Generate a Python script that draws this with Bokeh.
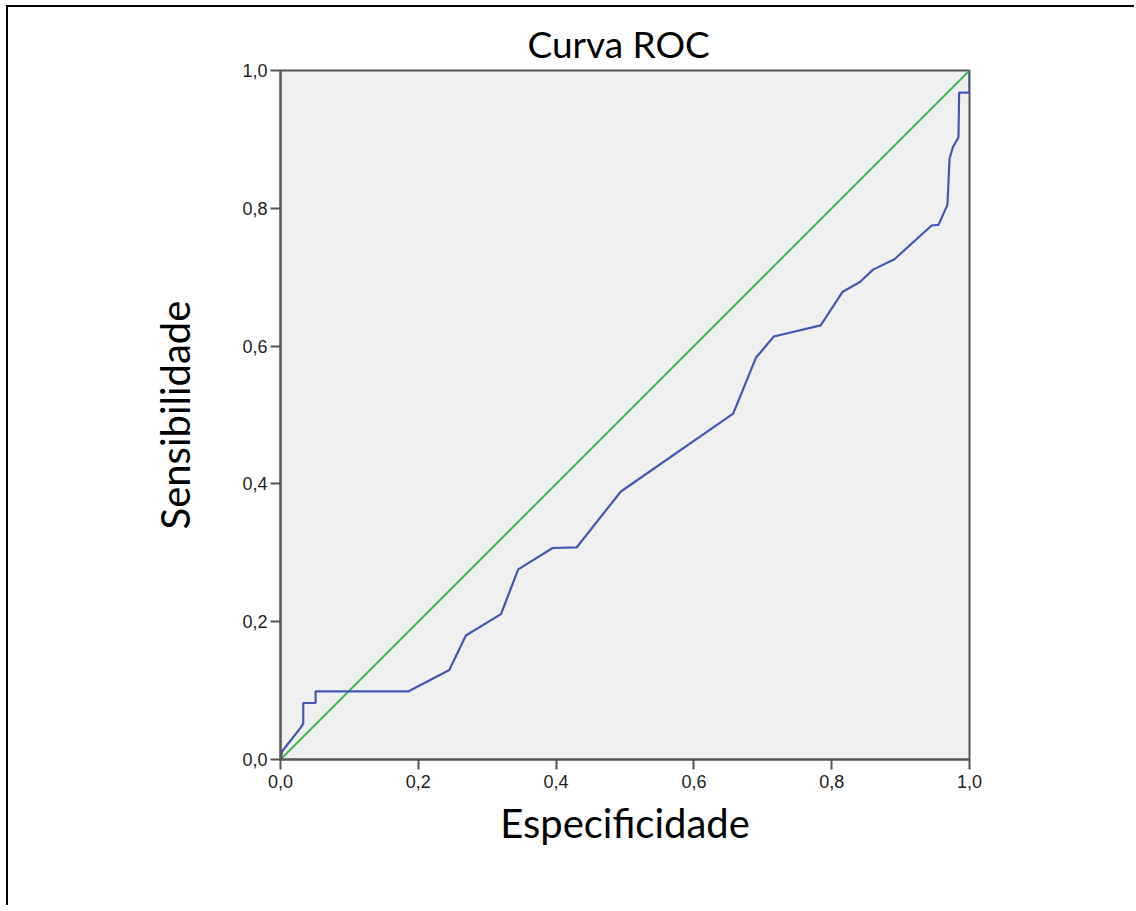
from bokeh.plotting import figure
from bokeh.models import Range1d, FixedTicker, Title
from bokeh.embed import file_html
from bokeh.resources import INLINE

# ROC curve (1 - specificity on x, sensitivity on y)
fpr = [0.0, 0.0025, 0.029, 0.033, 0.033, 0.051, 0.051, 0.186, 0.245, 0.269,
       0.320, 0.345, 0.395, 0.430, 0.494, 0.657, 0.690, 0.716, 0.784, 0.816,
       0.841, 0.860, 0.891, 0.945, 0.955, 0.968, 0.971, 0.976, 0.984, 0.985,
       1.0, 1.0]
tpr = [0.0, 0.012, 0.046, 0.052, 0.082, 0.082, 0.099, 0.099, 0.130, 0.180,
       0.211, 0.276, 0.307, 0.308, 0.389, 0.502, 0.583, 0.614, 0.630, 0.679,
       0.693, 0.711, 0.726, 0.775, 0.776, 0.805, 0.872, 0.889, 0.903, 0.968,
       0.968, 1.0]
ref_x = [0.0, 1.0]
ref_y = [0.0, 1.0]
ticks = [0.0, 0.2, 0.4, 0.6, 0.8, 1.0]
tick_labels = ["0,0", "0,2", "0,4", "0,6", "0,8", "1,0"]

AX = "#555555"
p = figure(width=1128, height=900, output_backend="svg", toolbar_location=None,
           x_range=Range1d(0, 1), y_range=Range1d(0, 1))
p.min_border_left = 272
p.min_border_right = 167
p.min_border_top = 63
p.min_border_bottom = 148
p.background_fill_color = "#f0f0f0"
p.border_fill_color = "white"
p.outline_line_color = AX
p.outline_line_width = 2
p.grid.visible = False

title = Title(text="Curva ROC", align="left", text_font="Lato",
              text_font_size="37px", text_font_style="normal", text_color="black",
              standoff=10, offset=247)
p.add_layout(title, "above")

for ax in (p.xaxis[0], p.yaxis[0]):
    ax.ticker = FixedTicker(ticks=ticks)
    ax.major_label_overrides = dict(zip(ticks, tick_labels))
    ax.minor_tick_line_color = None
    ax.major_tick_in = 0
    ax.major_tick_out = 10
    ax.major_tick_line_width = 2
    ax.major_tick_line_color = AX
    ax.axis_line_color = AX
    ax.axis_line_width = 2
    ax.major_label_text_font = "Liberation Sans"
    ax.major_label_text_font_size = "18px"
    ax.major_label_text_color = "#222222"
    ax.axis_label_text_font = "Lato"
    ax.axis_label_text_font_size = "40px"
    ax.axis_label_text_font_style = "normal"
    ax.axis_label_text_color = "black"

p.xaxis[0].axis_label = "Especificidade"
p.xaxis[0].major_label_standoff = 5
p.xaxis[0].axis_label_standoff = 8
p.yaxis[0].axis_label = "Sensibilidade"
p.yaxis[0].major_label_standoff = 3
p.yaxis[0].axis_label_standoff = 40

p.line(ref_x, ref_y, line_color="#3dbd4a", line_width=2)
p.line(fpr, tpr, line_color="#4358b5", line_width=2.2)

p.styles = {"border-top": "2px solid black", "border-left": "2px solid black",
            "margin-left": "6px", "margin-top": "5px"}

open("out.html", "w").write(file_html(p, INLINE))
